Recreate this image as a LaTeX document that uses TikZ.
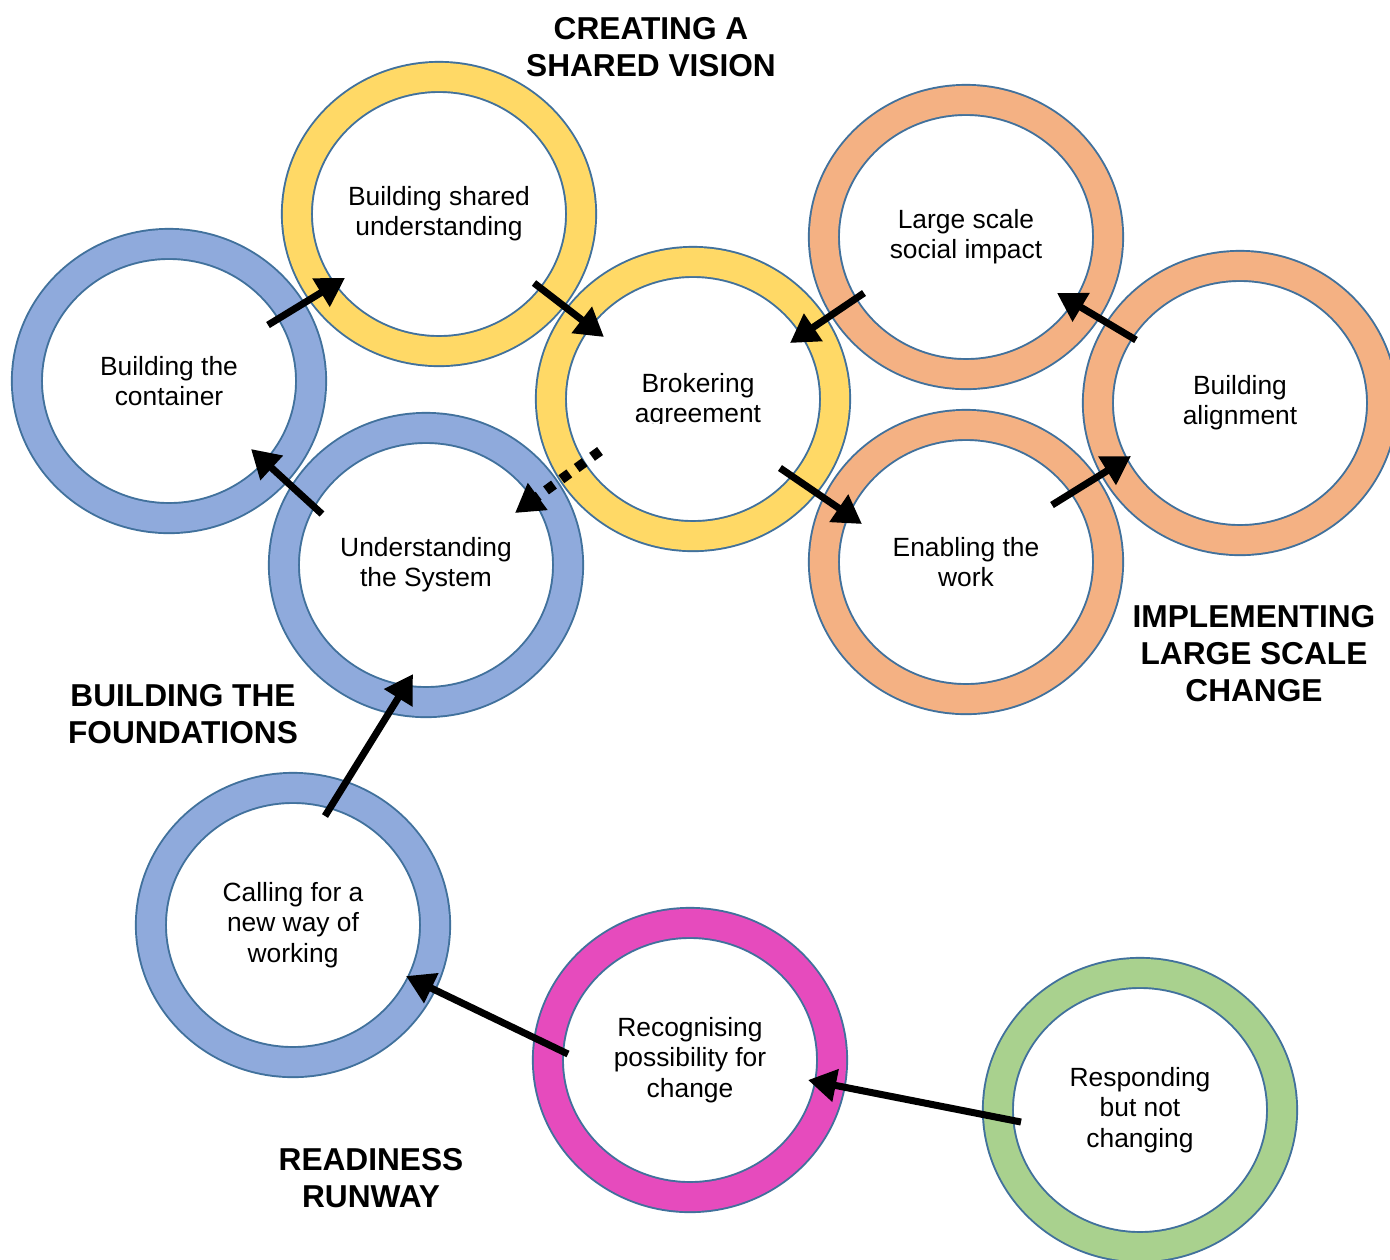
\documentclass[tikz,border=0pt]{standalone}
\usepackage{fontspec}
\setmainfont{Liberation Sans}
\usetikzlibrary{shapes.geometric,arrows.meta,calc}

\definecolor{ringedge}{HTML}{41719C}
\definecolor{ringyellow}{HTML}{FFD966}
\definecolor{ringblue}{HTML}{8FAADC}
\definecolor{ringorange}{HTML}{F4B183}
\definecolor{ringpink}{HTML}{E64BBD}
\definecolor{ringgreen}{HTML}{A9D18E}

\tikzset{
  ring/.style={ellipse, minimum width=2.84cm, minimum height=2.74cm, inner sep=0pt,
    fill=white, draw=ringedge, line width=0.55pt, double distance=8pt,
    align=center, font=\fontsize{7.5}{8.6}\selectfont},
  arr/.style={line width=2pt, -{Triangle[length=8pt,width=9pt]}},
  heading/.style={align=center, font=\fontsize{9}{10.5}\selectfont\bfseries}
}

\begin{document}
\begin{tikzpicture}[x=0.01cm, y=-0.01cm]

\useasboundingbox (0,0) rectangle (1390,1259);
\clip (0,0) rectangle (1390,1259);

% Кольца
\foreach \nm/\px/\py/\col/\txt in {
    shared/439/214/ringyellow/{Building shared\\understanding},
    cont/169/381/ringblue/{Building the\\container},
    sys/426/565/ringblue/{Understanding\\the System},
    large/966/237/ringorange/{Large scale\\social impact},
    align/1240/403/ringorange/{Building\\alignment},
    enab/966/562/ringorange/{Enabling the\\work},
    call/293/925/ringblue/{Calling for a\\new way of\\working},
    recog/690/1060/ringpink/{Recognising\\possibility for\\change},
    resp/1140/1110/ringgreen/{Responding\\but not\\changing}}
    \node[ring, double=\col] (\nm) at (\px,\py) {\txt};

\node[ring, double=ringyellow] (brok) at (693,399) {};

% подпись обрезана снизу
\begin{scope}
\clip (560,360) rectangle (830,423);
\node[align=center, font=\fontsize{7.5}{8.6}\selectfont] (brok-txt) at (698,401) {Brokering\\agreement};
\end{scope}

% Стрелки
\draw[arr] ($(cont)+(99,-56)$) -- ($(shared)+(-94,64)$);
\draw[arr] ($(shared)+(95,69)$) -- ($(brok)+(-89,-62)$);
\draw[arr] ($(large)+(-102,56)$) -- ($(brok)+(97,-56)$);
\draw[arr] ($(align)+(-104,-63)$) -- ($(large)+(91,56)$);
\draw[arr] ($(brok)+(87,69)$) -- ($(enab)+(-104,-38)$);
\draw[arr] ($(enab)+(86,-57)$) -- ($(align)+(-109,53)$);
\draw[arr, line width=2.8pt, dash pattern=on 2.8pt off 2.6pt] ($(brok)+(-93,52)$) -- ($(sys)+(89,-52)$);
\draw[arr] ($(sys)+(-104,-51)$) -- ($(cont)+(82,68)$);
\draw[arr] ($(call)+(32,-109)$) -- ($(sys)+(-13,109)$);
\draw[arr] ($(recog)+(-122,-6)$) -- ($(call)+(113,51)$);
\draw[arr] ($(resp)+(-119,12)$) -- ($(recog)+(118,20)$);

% Обозначения этапов
\node[heading] (vision) at (651,47) {CREATING A\\SHARED VISION};
\node[heading] (change) at (1254,654) {IMPLEMENTING\\LARGE SCALE\\CHANGE};
\node[heading] (found) at (183,714) {BUILDING THE\\FOUNDATIONS};
\node[heading] (runway) at (371,1178) {READINESS\\RUNWAY};

\end{tikzpicture}
\end{document}
